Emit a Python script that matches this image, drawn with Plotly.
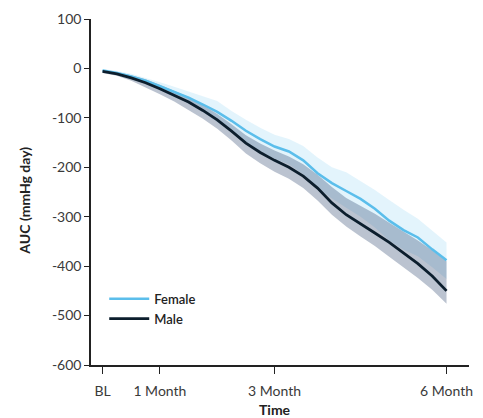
import plotly.graph_objects as go

# Time axis in months after baseline
months = [0, 0.25, 0.5, 0.75, 1.0, 1.25, 1.5, 1.75, 2.0, 2.25, 2.5, 2.75, 3.0,
          3.25, 3.5, 3.75, 4.0, 4.25, 4.5, 4.75, 5.0, 5.25, 5.5, 5.75, 6.0]

# Female AUC (mmHg day): mean and confidence band
female_mean = [-4, -9, -16, -25, -36, -47, -59, -73, -88, -106, -126, -143, -158,
               -168, -186, -212, -232, -248, -264, -284, -308, -327, -342, -366, -388]
female_upper = [-1, -5, -11, -19, -28, -37, -47, -56, -66, -86, -104, -120, -134,
                -143, -157, -180, -200, -210, -228, -246, -266, -286, -304, -328, -352]
female_lower = [-7, -13, -21, -31, -44, -57, -71, -88, -108, -128, -149, -167, -183,
                -194, -214, -242, -263, -282, -300, -322, -348, -367, -380, -402, -426]

# Male AUC (mmHg day): mean and confidence band
male_mean = [-6, -11, -19, -29, -41, -54, -68, -85, -104, -127, -151, -170, -186,
             -200, -218, -242, -272, -296, -314, -333, -352, -373, -395, -420, -450]
male_upper = [-3, -7, -14, -22, -33, -45, -58, -74, -92, -113, -135, -152, -166,
              -178, -194, -215, -240, -262, -278, -294, -312, -330, -348, -368, -390]
male_lower = [-9, -15, -25, -38, -52, -67, -84, -102, -122, -146, -172, -192, -209,
              -223, -242, -267, -296, -320, -340, -359, -381, -402, -424, -448, -476]

tick_months = [0, 1, 3, 6]
tick_labels = ["BL", "1 Month", "3 Month", "6 Month"]
y_ticks = [100, 0, -100, -200, -300, -400, -500, -600]
y_tick_labels = ["100", "0", "-100", "-200", "-300", "-400", "-500", "-600"]

FEMALE_LINE = "rgb(91,190,235)"
FEMALE_BAND = "rgba(91,190,235,0.17)"
MALE_LINE = "rgb(12,30,45)"
MALE_BAND = "rgba(20,48,92,0.29)"
FONT = "Lato, 'Open Sans', sans-serif"
TEXT = "#3a3a3a"

fig = go.Figure()

# Confidence bands (female first, male drawn over it)
fig.add_trace(go.Scatter(x=months, y=female_upper, mode="lines",
                         line=dict(width=0), hoverinfo="skip", showlegend=False))
fig.add_trace(go.Scatter(x=months, y=female_lower, mode="lines", fill="tonexty",
                         fillcolor=FEMALE_BAND, line=dict(width=0),
                         hoverinfo="skip", showlegend=False))
fig.add_trace(go.Scatter(x=months, y=male_upper, mode="lines",
                         line=dict(width=0), hoverinfo="skip", showlegend=False))
fig.add_trace(go.Scatter(x=months, y=male_lower, mode="lines", fill="tonexty",
                         fillcolor=MALE_BAND, line=dict(width=0),
                         hoverinfo="skip", showlegend=False))

# Mean lines
fig.add_trace(go.Scatter(x=months, y=female_mean, mode="lines", name="Female",
                         line=dict(color=FEMALE_LINE, width=2.5)))
fig.add_trace(go.Scatter(x=months, y=male_mean, mode="lines", name="Male",
                         line=dict(color=MALE_LINE, width=2.8)))

fig.update_layout(
    width=483, height=418,
    margin=dict(l=91, r=10.3, t=15, b=52.7, pad=0),
    paper_bgcolor="white", plot_bgcolor="white",
    font=dict(family=FONT, size=14, color=TEXT),
    showlegend=True,
    legend=dict(x=0.035, y=0.235, xanchor="left", yanchor="top",
                traceorder="normal", itemwidth=40,
                bgcolor="rgba(0,0,0,0)", tracegroupgap=0,
                font=dict(family=FONT, size=13, color="#222222", weight=600)),
    xaxis=dict(range=[-0.202, 6.392], tickvals=tick_months, ticktext=tick_labels,
               showgrid=False, zeroline=False, showline=True, linecolor="#222222",
               linewidth=1.5, ticks="outside", ticklen=7, tickwidth=1.2,
               tickcolor="#222222", ticklabelstandoff=5,
               tickfont=dict(size=14, color=TEXT)),
    yaxis=dict(range=[-600, 100], tickvals=y_ticks, ticktext=y_tick_labels,
               showgrid=False, zeroline=False,
               showline=True, linecolor="#222222", linewidth=1.5, ticks="outside",
               ticklen=5, tickwidth=1.2, tickcolor="#222222",
               tickfont=dict(size=14, color=TEXT)),
    annotations=[
        dict(text="AUC (mmHg day)", xref="paper", yref="paper", x=0, y=0.475,
             xshift=-66, textangle=-90, showarrow=False, xanchor="center",
             yanchor="middle", font=dict(size=14, color="#222222", weight="bold")),
        dict(text="Time", xref="paper", yref="paper", x=0.4865, y=0, yshift=-44,
             showarrow=False, xanchor="center", yanchor="middle",
             font=dict(size=14, color="#222222", weight="bold")),
    ],
)

fig.write_html("out.html")
